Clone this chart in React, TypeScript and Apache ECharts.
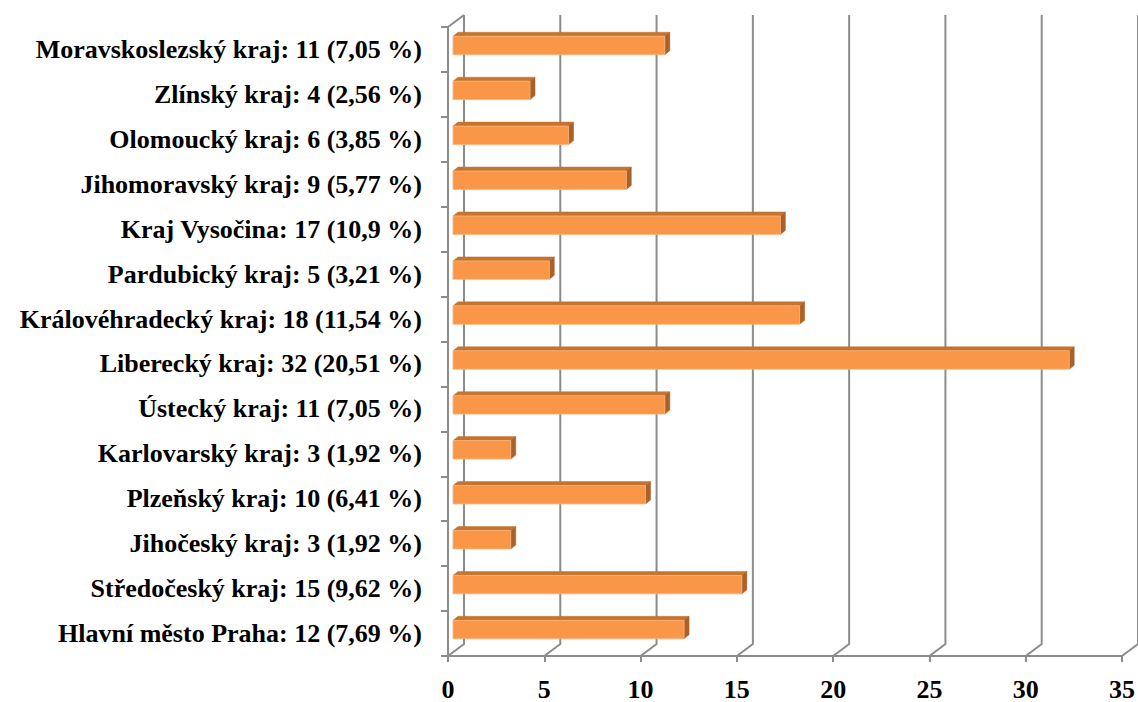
import React, { useEffect, useRef } from "react";
import * as echarts from "echarts";

// Bottom to top
const regions = [
  "Hlavní město Praha",
  "Středočeský kraj",
  "Jihočeský kraj",
  "Plzeňský kraj",
  "Karlovarský kraj",
  "Ústecký kraj",
  "Liberecký kraj",
  "Královéhradecký kraj",
  "Pardubický kraj",
  "Kraj Vysočina",
  "Jihomoravský kraj",
  "Olomoucký kraj",
  "Zlínský kraj",
  "Moravskoslezský kraj",
];
const counts = [12, 15, 3, 10, 3, 11, 32, 18, 5, 17, 9, 6, 4, 11];
const percents = ["7,69", "9,62", "1,92", "6,41", "1,92", "7,05", "20,51", "11,54", "3,21", "10,9", "5,77", "3,85", "2,56", "7,05"];
const xTicks = [0, 5, 10, 15, 20, 25, 30, 35];

const categories = regions.map((r, i) => `${r}: ${counts[i]} (${percents[i]} %)`);

const GRID_COLOR = "#8C8C8C";
const FONT = "'Liberation Serif', 'Times New Roman', serif";
const DEPTH_X = 16;
const DEPTH_Y = -12;

export default function App() {
  const ref = useRef<HTMLDivElement>(null);
  useEffect(() => {
    if (!ref.current) return;
    const chart = echarts.init(ref.current, null, { renderer: "svg" });
    const option: any = {
      animation: false,
      backgroundColor: "#ffffff",
      grid: { left: 448, right: 16, top: 27, bottom: 43, containLabel: false },
      xAxis: {
        type: "value",
        min: 0,
        max: 35,
        interval: 5,
        axisLine: { show: true, lineStyle: { color: GRID_COLOR, width: 2 } },
        axisTick: { show: true, length: 6, lineStyle: { color: GRID_COLOR, width: 2 } },
        splitLine: { show: false },
        axisLabel: {
          margin: 20,
          color: "#000",
          fontFamily: FONT,
          fontWeight: "bold",
          fontSize: 26,
        },
      },
      yAxis: {
        type: "category",
        data: categories,
        axisLine: { show: true, lineStyle: { color: GRID_COLOR, width: 2 } },
        axisTick: { show: true, length: 7, lineStyle: { color: GRID_COLOR, width: 2 } },
        splitLine: { show: false },
        axisLabel: {
          margin: 26,
          color: "#000",
          fontFamily: FONT,
          fontWeight: "bold",
          fontSize: 26,
        },
      },
      series: [
        {
          type: "custom",
          clip: false,
          silent: true,
          z: 1,
          data: xTicks.map((v) => [v, 0]),
          renderItem: (params: any, api: any) => {
            const cs = params.coordSys;
            const v = api.value(0);
            const x = api.coord([v, 0])[0];
            const top = cs.y;
            const bottom = cs.y + cs.height;
            const children: any[] = [
              {
                type: "polyline",
                shape: {
                  points: [
                    [x, bottom],
                    [x + DEPTH_X, bottom + DEPTH_Y],
                    [x + DEPTH_X, top + DEPTH_Y],
                  ],
                },
                style: { stroke: GRID_COLOR, lineWidth: 2, fill: "none" },
              },
            ];
            if (v === 0) {
              children.push({
                type: "line",
                shape: { x1: x, y1: top, x2: x + DEPTH_X, y2: top + DEPTH_Y },
                style: { stroke: GRID_COLOR, lineWidth: 2 },
              });
            }
            return { type: "group", children };
          },
        },
        {
          type: "custom",
          clip: false,
          z: 3,
          data: counts.map((c, i) => [c, i]),
          renderItem: (params: any, api: any) => {
            const val = api.value(0);
            const idx = api.value(1);
            const start = api.coord([0, idx]);
            const end = api.coord([val, idx]);
            const band = api.size([0, 1])[1];
            const h = band * 0.41;
            const ox = 5;
            const oy = -4;
            const dx = 5;
            const dy = -4;
            const x0 = start[0] + ox;
            const x1 = end[0] + ox;
            const yt = start[1] + oy - h / 2;
            const yb = yt + h;
            return {
              type: "group",
              children: [
                {
                  type: "polygon",
                  shape: { points: [[x0, yt], [x1, yt], [x1 + dx, yt + dy], [x0 + dx, yt + dy]] },
                  style: { fill: "#C4742F", stroke: "#C4742F", lineWidth: 0.5 },
                },
                {
                  type: "polygon",
                  shape: { points: [[x1, yt], [x1 + dx, yt + dy], [x1 + dx, yb + dy], [x1, yb]] },
                  style: { fill: "#A8622A", stroke: "#A8622A", lineWidth: 0.5 },
                },
                {
                  type: "rect",
                  shape: { x: x0, y: yt, width: x1 - x0, height: h },
                  style: { fill: "#F99647", stroke: "#FBB27A", lineWidth: 0.8 },
                },
              ],
            };
          },
        },
      ],
    };
    chart.setOption(option);
    return () => chart.dispose();
  }, []);
  return (
    <div
      ref={ref}
      style={{ position: "fixed", left: 0, top: 0, width: 1138, height: 702, background: "#fff" }}
    />
  );
}
